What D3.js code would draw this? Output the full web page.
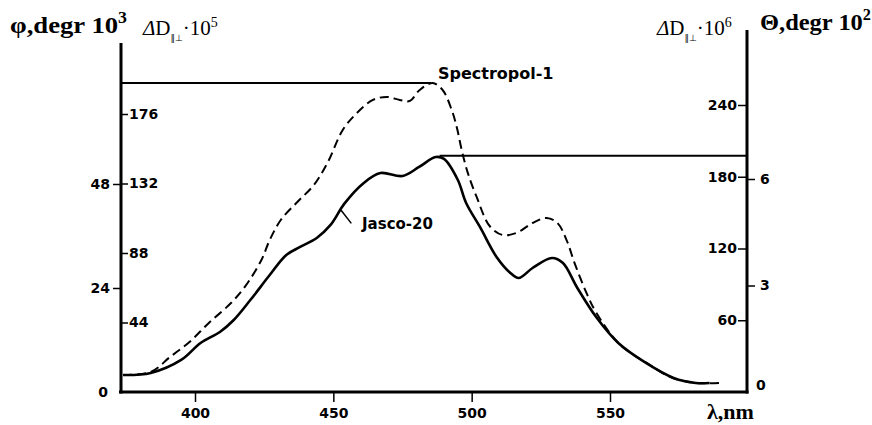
<!DOCTYPE html>
<meta charset="utf-8">
<script src="https://cdn.jsdelivr.net/npm/d3@7"></script>
<style>
body {
	margin: 0;
	background: white;
}
.tick text {
	font-family: "DejaVu Sans", sans-serif;
	font-weight: bold;
	font-size: 14px;
	fill: black;
}
.tick line {
	stroke: black;
	stroke-width: 1.5px;
}
.title {
	font-family: "Liberation Serif", "Times New Roman", serif;
	fill: black;
}
.lbl {
	font-family: "DejaVu Sans", sans-serif;
	font-weight: bold;
	fill: black;
}
</style>
<body>
<svg id="chart"></svg>
<script>
'use strict'

const width = 872,
	  height = 425

// wavelength, nm
const dashLambda = [374, 384, 391, 398, 405, 413, 418, 424, 427, 431, 437, 443, 448, 453.4, 458.5, 464.3, 469.3, 474, 477.6, 481.2, 485.9, 489.5, 492.8, 494.6, 496.4, 498.6, 501.8, 506.5, 511.2, 516.2, 522, 527.1, 531, 534.3, 537.2, 541.5, 545.1, 553.4, 563.2, 572.6, 581.2, 589.5]
// Spectropol-1, ΔD·10^5
const dashValues = [10.8, 12.7, 22.2, 31.7, 43.7, 56.3, 66.5, 83.6, 96.2, 108.9, 120.3, 131.1, 145.5, 165.9, 176.6, 184.9, 186.8, 184.9, 184.2, 191.2, 195.6, 191.2, 178.5, 167.8, 153.2, 138.7, 123.5, 105.1, 99.4, 100.7, 107.0, 110.2, 107.0, 96.2, 81.6, 62.7, 50.0, 30.4, 18.4, 8.9, 5.7, 5.7]

const solidLambda = [374, 384, 395, 402, 409, 414, 420, 427, 433, 438, 444, 449, 454, 461, 467, 475, 481, 487, 490, 495, 498, 503, 509, 514, 517, 522, 529, 533, 538, 545, 553, 563, 573, 581, 586]
// Jasco-20, ΔD·10^6
const solidValues = [14.2, 15.9, 26.8, 41.0, 50.2, 60.2, 76.9, 97.8, 114.6, 121.3, 128.8, 139.7, 157.5, 174.8, 183.1, 180.6, 188.2, 196.5, 194.9, 177.3, 158.1, 138.0, 112.9, 99.5, 95.3, 103.7, 112.1, 107.9, 87.8, 62.7, 41.0, 24.3, 11.7, 7.5, 7.5]

const xTicks = [400, 450, 500, 550]
const phiTicks = [0, 24, 48]
const d5Ticks = [44, 88, 132, 176]
const d6Ticks = [60, 120, 180, 240]
const thetaTicks = [0, 3, 6]

// peaks marked by the horizontal leader lines
const dashPeak = [486, 195.6]
const solidPeak = [489.5, 197.5]

const svg = d3.select("#chart")
	.attr("width", width)
	.attr("height", height)

const left = 121, right = 747, bottom = 392

const x = d3.scaleLinear().domain([400, 550]).range([195, 610])
const x0 = x.invert(left), x1 = x.invert(right)
const yPhi = d3.scaleLinear().domain([0, 48]).range([bottom, 184])
const yD5 = d3.scaleLinear().domain([0, 176]).range([bottom, 114])
const yD6 = d3.scaleLinear().domain([0, 240]).range([bottom, 105])
const yTheta = d3.scaleLinear().domain([0, 6]).range([bottom, 179])

// frame
svg.append("line").attr("x1", left).attr("x2", left).attr("y1", 43).attr("y2", bottom + 1.5)
	.attr("stroke", "black").attr("stroke-width", 3)
svg.append("line").attr("x1", right).attr("x2", right).attr("y1", 30).attr("y2", bottom + 1.5)
	.attr("stroke", "black").attr("stroke-width", 3)
svg.append("line").attr("x1", left - 2).attr("x2", right + 1.5).attr("y1", bottom).attr("y2", bottom)
	.attr("stroke", "black").attr("stroke-width", 3)

// x axis
svg.append("g")
	.attr("transform", `translate(0,${bottom + 1})`)
	.call(d3.axisBottom(x).tickValues(xTicks).tickSize(9).tickPadding(6))
	.call(g => g.select(".domain").remove())

// φ axis (outer left)
svg.append("g")
	.attr("transform", `translate(${left - 1},0)`)
	.call(d3.axisLeft(yPhi).tickValues(phiTicks).tickSize(7).tickPadding(3))
	.call(g => g.select(".domain").remove())
	.call(g => g.selectAll(".tick").filter(d => d === 0).select("line").remove())
	.call(g => g.selectAll(".tick").filter(d => d === 0).select("text").attr("x", -12).attr("dy", "0.3em"))

// ΔD·10^5 (inner left)
svg.append("g")
	.attr("transform", `translate(${left + 1},0)`)
	.call(d3.axisRight(yD5).tickValues(d5Ticks).tickSize(6).tickPadding(1))
	.call(g => g.select(".domain").remove())

// ΔD·10^6 (inner right)
svg.append("g")
	.attr("transform", `translate(${right - 1},0)`)
	.call(d3.axisLeft(yD6).tickValues(d6Ticks).tickSize(8).tickPadding(1))
	.call(g => g.select(".domain").remove())

// Θ (outer right)
svg.append("g")
	.attr("transform", `translate(${right + 1},0)`)
	.call(d3.axisRight(yTheta).tickValues(thetaTicks).tickFormat(d3.format("d")).tickSize(7).tickPadding(5))
	.call(g => g.select(".domain").remove())
	.call(g => g.selectAll(".tick").filter(d => d === 0).select("line").remove())
	.call(g => g.selectAll(".tick").filter(d => d === 0).select("text").attr("x", 8).attr("dy", "-0.2em"))

// curves
const dashData = dashLambda.map((l, i) => [l, dashValues[i]])
const solidData = solidLambda.map((l, i) => [l, solidValues[i]])

svg.append("path")
	.datum(dashData)
	.attr("fill", "none")
	.attr("stroke", "black")
	.attr("stroke-width", 2)
	.attr("stroke-dasharray", "9,5")
	.attr("d", d3.line().x(d => x(d[0])).y(d => yD5(d[1])).curve(d3.curveCatmullRom))

svg.append("path")
	.datum(solidData)
	.attr("fill", "none")
	.attr("stroke", "black")
	.attr("stroke-width", 2.6)
	.attr("d", d3.line().x(d => x(d[0])).y(d => yD6(d[1])).curve(d3.curveCatmullRom))

// leader lines
svg.append("line")
	.attr("x1", x(x0)).attr("x2", x(dashPeak[0]) - 2)
	.attr("y1", yD5(dashPeak[1])).attr("y2", yD5(dashPeak[1]))
	.attr("stroke", "black").attr("stroke-width", 2)
svg.append("line")
	.attr("x1", x(solidPeak[0]) - 3).attr("x2", x(x1))
	.attr("y1", yD6(solidPeak[1])).attr("y2", yD6(solidPeak[1]))
	.attr("stroke", "black").attr("stroke-width", 2)
svg.append("line")
	.attr("x1", x(452.8)).attr("x2", x(456.5))
	.attr("y1", yD6(152)).attr("y2", yD6(141))
	.attr("stroke", "black").attr("stroke-width", 1.5)

svg.append("text").attr("class", "lbl")
	.attr("x", x(dashPeak[0]) + 5).attr("y", yD5(dashPeak[1]) - 4)
	.attr("font-size", 16).text("Spectropol-1")
svg.append("text").attr("class", "lbl")
	.attr("x", 362).attr("y", 229)
	.attr("font-size", 15).text("Jasco-20")

// axis titles
const t1 = svg.append("text").attr("class", "title")
	.attr("x", 10).attr("y", 33).attr("font-size", 24).attr("font-weight", "bold")
	.attr("textLength", 117).attr("lengthAdjust", "spacingAndGlyphs")
t1.append("tspan").text("φ,degr 10")
t1.append("tspan").attr("font-size", 16).attr("dy", -10).text("3")

function deltaTitle(xPos, exp) {
	const t = svg.append("text").attr("class", "title")
		.attr("x", xPos).attr("y", 35).attr("font-size", 21)
	t.append("tspan").attr("font-style", "italic").text("Δ")
	t.append("tspan").text("D")
	t.append("tspan").attr("font-family", "DejaVu Sans").attr("font-size", 9).attr("dy", 6).text("∥⊥")
	t.append("tspan").attr("dy", -6).text("·10")
	t.append("tspan").attr("font-size", 14).attr("dy", -8).text(exp)
}
deltaTitle(143, "5")
deltaTitle(657, "6")

const t2 = svg.append("text").attr("class", "title")
	.attr("x", 760).attr("y", 30).attr("font-size", 24).attr("font-weight", "bold")
	.attr("textLength", 111).attr("lengthAdjust", "spacingAndGlyphs")
t2.append("tspan").text("Θ,degr 10")
t2.append("tspan").attr("font-size", 16).attr("dy", -10).text("2")

svg.append("text").attr("class", "title")
	.attr("x", 707).attr("y", 419).attr("font-size", 22).attr("font-weight", "bold")
	.text("λ,nm")
</script>
</body>
